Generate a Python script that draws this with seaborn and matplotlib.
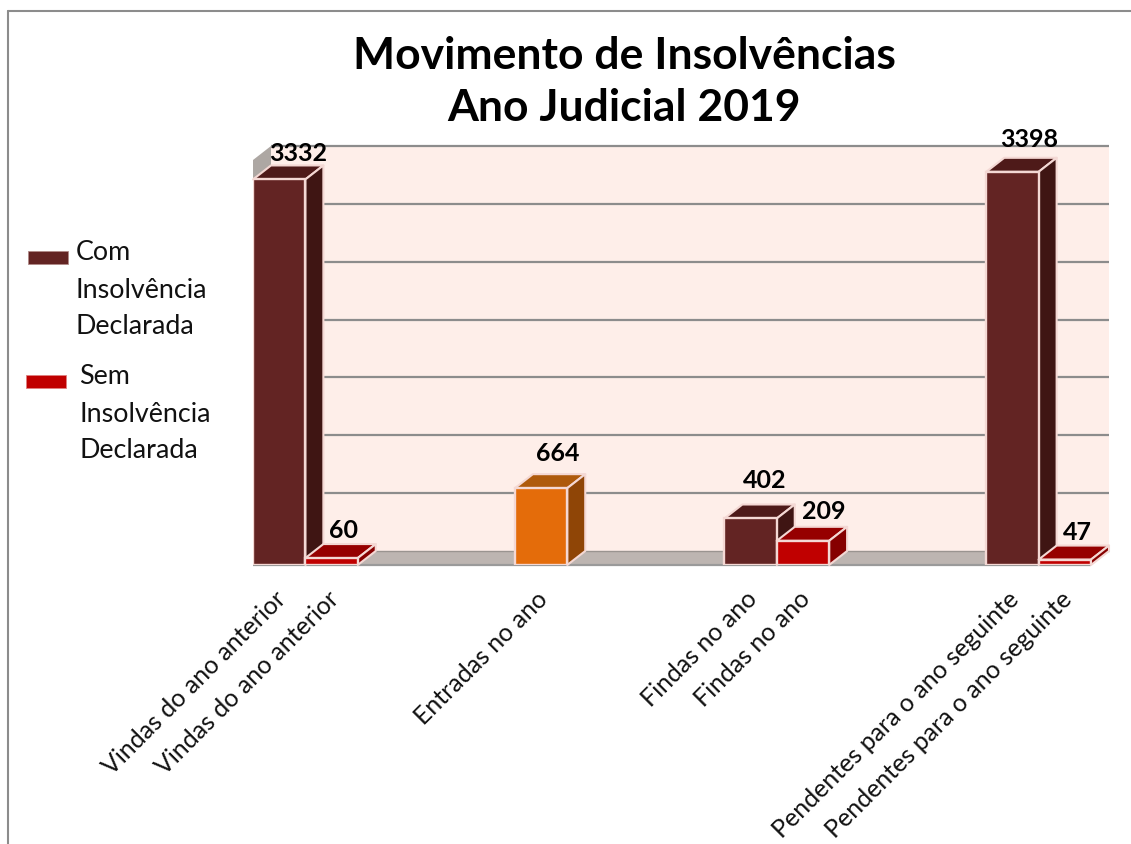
import pandas as pd
import seaborn as sns
import matplotlib.pyplot as plt
from matplotlib.patches import Polygon, Rectangle
from matplotlib.lines import Line2D
from matplotlib.transforms import ScaledTranslation

title_str = 'Movimento de Insolvências\nAno Judicial 2019'
categories = ['Vindas do ano anterior', 'Vindas do ano anterior', 'Entradas no ano',
              'Findas no ano', 'Findas no ano',
              'Pendentes para o ano seguinte', 'Pendentes para o ano seguinte']
groups = ['Com', 'Sem', 'Entradas', 'Com', 'Sem', 'Com', 'Sem']
values = [3332, 60, 664, 402, 209, 3398, 47]
legend_labels = ['Com\nInsolvência\nDeclarada', 'Sem\nInsolvência\nDeclarada']
y_ticks = [500, 1000, 1500, 2000, 2500, 3000, 3500]

# layout only, bars sit in 16 equal slots along the axis
slots = [0, 1, 5, 9, 10, 14, 15]
front = {'Com': '#632423', 'Sem': '#C00000', 'Entradas': '#E46C0A'}
top = {'Com': '#4E1A19', 'Sem': '#960000', 'Entradas': '#AE5A0C'}
side = {'Com': '#3F1513', 'Sem': '#860000', 'Entradas': '#8F4506'}
edge = '#F4D8D4'
label_offsets = [(19, 26), (12, 28), (17, 35), (14, 38), (21, 29), (17, 32), (13, 27)]

W, H = 1131, 844
sns.set_style('white')
plt.rcParams['font.family'] = ['Lato', 'DejaVu Sans']

fig = plt.figure(figsize=(W / 100, H / 100), dpi=100)
ax = fig.add_axes([253 / W, 1 - 565 / H, 838 / W, 405 / H])
df = pd.DataFrame({'slot': slots, 'value': values, 'group': groups})
sns.barplot(data=df, x='slot', y='value', hue='group', palette=front, dodge=False,
            native_scale=True, width=1, legend=False, saturation=1, ax=ax)
ax.set_xlim(-0.5, 15.5)
ax.set_ylim(0, 3500)
ax.set_xlabel('')
ax.set_ylabel('')
ax.set_yticks([])
sns.despine(ax=ax, left=True, bottom=True)
ax.patch.set_visible(False)

# grab the bars before the fake 3d faces get added
bars = sorted(ax.patches, key=lambda p: p.get_x())
bars = [b for b in bars if b.get_height() > 0]

# depth of the fake 3d box, 18px right and 14px up, in data units
dx = 18 / (838 / 16)
dy = 14 / (405 / 3500)
x0, x1 = -0.5, 15.5

ax.add_patch(Polygon([(x0 + dx, dy), (x1 + dx, dy), (x1 + dx, 3500 + dy), (x0 + dx, 3500 + dy)],
                     fc='#FEEEE9', ec='none', zorder=0, clip_on=False))
ax.add_patch(Polygon([(x0, 0), (x1, 0), (x1 + dx, dy), (x0 + dx, dy)],
                     fc='#BDB5B1', ec='none', zorder=0.5, clip_on=False))
ax.add_patch(Polygon([(x0, 0), (x0 + dx, dy), (x0 + dx, 3500 + dy), (x0, 3500)],
                     fc='#ADA7A3', ec='none', zorder=0.5, clip_on=False))
ax.hlines([t + dy for t in y_ticks], x0 + dx, x1 + dx, color='#8C8C8C', lw=1.6,
          zorder=1, clip_on=False)
ax.hlines([dy], x0 + dx, x1 + dx, color='#9A9490', lw=1, zorder=1, clip_on=False)
ax.hlines([0], x0, x1, color='#9A9A9A', lw=1.6, zorder=1, clip_on=False)

for i, (bar, grp, val, off) in enumerate(zip(bars, groups, values, label_offsets)):
    z = 3 + i * 0.1
    left, right = bar.get_x(), bar.get_x() + bar.get_width()
    ax.add_patch(Polygon([(left, val), (right, val), (right + dx, val + dy), (left + dx, val + dy)],
                         fc=top[grp], ec=edge, lw=1.5, zorder=z, clip_on=False, joinstyle='round'))
    ax.add_patch(Polygon([(right, 0), (right + dx, dy), (right + dx, val + dy), (right, val)],
                         fc=side[grp], ec=edge, lw=1.5, zorder=z, clip_on=False, joinstyle='round'))
    bar.set_edgecolor(edge)
    bar.set_linewidth(1.7)
    bar.set_zorder(z + 0.05)
    ax.annotate(str(val), ((left + right) / 2, val), xytext=(off[0] * 0.72, off[1] * 0.72),
                textcoords='offset points', ha='center', va='center', fontsize=18,
                fontweight='bold', color='black', zorder=10, annotation_clip=False)

ax.set_xticks(slots)
ax.set_xticklabels(categories, rotation=45, ha='right', rotation_mode='anchor',
                   fontsize=18, color='#111111')
ax.tick_params(axis='x', length=0, pad=16)
# nudge the rotated labels a few px left
shift = ScaledTranslation(-5 / 100, 0, fig.dpi_scale_trans)
for lab in ax.get_xticklabels():
    lab.set_transform(lab.get_transform() + shift)

fig.text(624 / W, 1 - 82 / H, title_str, ha='center', va='center', fontsize=32,
         fontweight='bold', color='black', linespacing=1.36)

# hand placed legend, as in the source slide
fig.add_artist(Rectangle((28 / W, 1 - 264 / H), 40 / W, 13 / H, fc=front['Com'],
                         ec='#B08A88', lw=0.6, transform=fig.transFigure))
fig.add_artist(Rectangle((26 / W, 1 - 388 / H), 40 / W, 13 / H, fc=front['Sem'],
                         ec='#E08080', lw=0.6, transform=fig.transFigure))
fig.text(76 / W, 1 - 290 / H, legend_labels[0], ha='left', va='center', fontsize=19.4,
         color='#111111', linespacing=1.6)
fig.text(79 / W, 1 - 414 / H, legend_labels[1], ha='left', va='center', fontsize=19.4,
         color='#111111', linespacing=1.6)

# slide frame
fig.add_artist(Line2D([8 / W, 8 / W], [0, 1 - 11 / H], color='#8C8C8C', lw=1.5))
fig.add_artist(Line2D([8 / W, 1], [1 - 11 / H, 1 - 11 / H], color='#8C8C8C', lw=1.5))

plt.savefig('out.png', dpi=100)
plt.close()
